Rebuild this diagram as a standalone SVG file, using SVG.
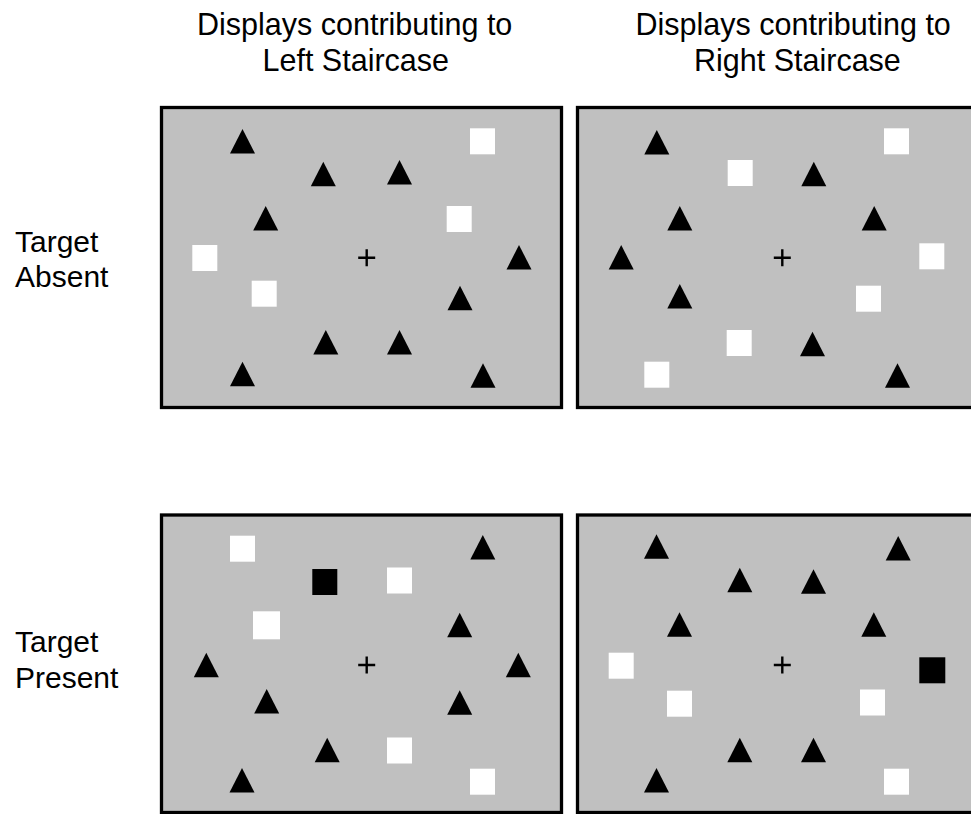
<svg xmlns="http://www.w3.org/2000/svg" xmlns:xlink="http://www.w3.org/1999/xlink" width="971" height="814" viewBox="0 0 971 814">
<style>
  .lbl { font-family: "Liberation Sans", Arial, sans-serif; font-size: 30px; fill: #000; }
  .hdr { font-size: 30.5px; }
  .frame { fill: #c0c0c0; stroke: #000; stroke-width: 3.3; }
  .tri { fill: #000; }
  .wsq { fill: #fff; }
  .bsq { fill: #000; }
  .plus { stroke: #000; stroke-width: 2.4; fill: none; }
</style>
<defs>
  <path id="tri" d="M0,0 L12.5,24.5 L-12.5,24.5 Z"/>
  <rect id="sq" width="25" height="26"/>
  <path id="plus" d="M-8.5,0 H8.5 M0,-8.5 V8.5"/>
</defs>
<rect width="971" height="814" fill="#fff"/>

<g id="headers">
  <text class="lbl hdr" x="197" y="35">Displays contributing to</text>
  <text class="lbl hdr" x="262.5" y="71">Left Staircase</text>
  <text class="lbl hdr" x="635.5" y="35">Displays contributing to</text>
  <text class="lbl hdr" x="694" y="71">Right Staircase</text>
</g>
<g id="row-labels">
  <text class="lbl" x="15" y="252">Target</text>
  <text class="lbl" x="15" y="287">Absent</text>
  <text class="lbl" x="15" y="652">Target</text>
  <text class="lbl" x="15" y="688">Present</text>
</g>

<g id="panel-absent-left">
  <rect class="frame" x="161.5" y="107.5" width="400" height="300"/>
  <g class="tri">
    <use href="#tri" x="242.5" y="129"/>
    <use href="#tri" x="323.3" y="161.7"/>
    <use href="#tri" x="399.5" y="160"/>
    <use href="#tri" x="265.7" y="206"/>
    <use href="#tri" x="519" y="245"/>
    <use href="#tri" x="460" y="285.7"/>
    <use href="#tri" x="325.8" y="330"/>
    <use href="#tri" x="399.5" y="330"/>
    <use href="#tri" x="242.5" y="361.7"/>
    <use href="#tri" x="483" y="363.3"/>
  </g>
  <g class="wsq">
    <use href="#sq" x="470" y="128.3"/>
    <use href="#sq" x="446.7" y="206"/>
    <use href="#sq" x="192.3" y="245"/>
    <use href="#sq" x="251.7" y="280.7"/>
  </g>
  <use class="plus" href="#plus" x="366.7" y="257.7"/>
</g>

<g id="panel-absent-right">
  <rect class="frame" x="577.5" y="107.5" width="420" height="300"/>
  <g class="tri">
    <use href="#tri" x="656.8" y="130"/>
    <use href="#tri" x="813.8" y="161.7"/>
    <use href="#tri" x="679.8" y="206"/>
    <use href="#tri" x="874.2" y="206"/>
    <use href="#tri" x="621.2" y="245"/>
    <use href="#tri" x="679.8" y="284"/>
    <use href="#tri" x="812.5" y="331.7"/>
    <use href="#tri" x="897.5" y="363.3"/>
  </g>
  <g class="wsq">
    <use href="#sq" x="884" y="128.3"/>
    <use href="#sq" x="727.7" y="160"/>
    <use href="#sq" x="919.3" y="243.3"/>
    <use href="#sq" x="856" y="285.7"/>
    <use href="#sq" x="726.7" y="330"/>
    <use href="#sq" x="644.3" y="361.7"/>
  </g>
  <use class="plus" href="#plus" x="782.3" y="257.7"/>
</g>

<g id="panel-present-left">
  <rect class="frame" x="161.5" y="515" width="400" height="297.5"/>
  <g class="tri">
    <use href="#tri" x="482.8" y="535"/>
    <use href="#tri" x="459.7" y="612.7"/>
    <use href="#tri" x="206.3" y="652.7"/>
    <use href="#tri" x="518.3" y="652.7"/>
    <use href="#tri" x="266.7" y="689"/>
    <use href="#tri" x="459.7" y="690.3"/>
    <use href="#tri" x="327.2" y="737.7"/>
    <use href="#tri" x="242" y="768"/>
  </g>
  <g class="wsq">
    <use href="#sq" x="230" y="535.7"/>
    <use href="#sq" x="387" y="567.5"/>
    <rect x="253" y="611.3" width="27" height="28"/>
    <use href="#sq" x="387" y="737.5"/>
    <use href="#sq" x="470" y="768.7"/>
  </g>
  <use class="bsq" href="#sq" x="312.3" y="569"/>
  <use class="plus" href="#plus" x="366.7" y="665"/>
</g>

<g id="panel-present-right">
  <rect class="frame" x="577.5" y="515" width="420" height="297.5"/>
  <g class="tri">
    <use href="#tri" x="656.5" y="534.3"/>
    <use href="#tri" x="898.2" y="536"/>
    <use href="#tri" x="739.8" y="567.7"/>
    <use href="#tri" x="813.5" y="569.3"/>
    <use href="#tri" x="679.5" y="612.3"/>
    <use href="#tri" x="873.8" y="612.3"/>
    <use href="#tri" x="739.8" y="737.7"/>
    <use href="#tri" x="813.5" y="737.7"/>
    <use href="#tri" x="656.5" y="768"/>
  </g>
  <g class="wsq">
    <use href="#sq" x="608.7" y="652.7"/>
    <use href="#sq" x="667" y="690.7"/>
    <use href="#sq" x="860" y="689.5"/>
    <use href="#sq" x="884" y="768.7"/>
  </g>
  <rect class="bsq" x="919.3" y="657.3" width="26" height="26"/>
  <use class="plus" href="#plus" x="782.3" y="665"/>
</g>
</svg>
